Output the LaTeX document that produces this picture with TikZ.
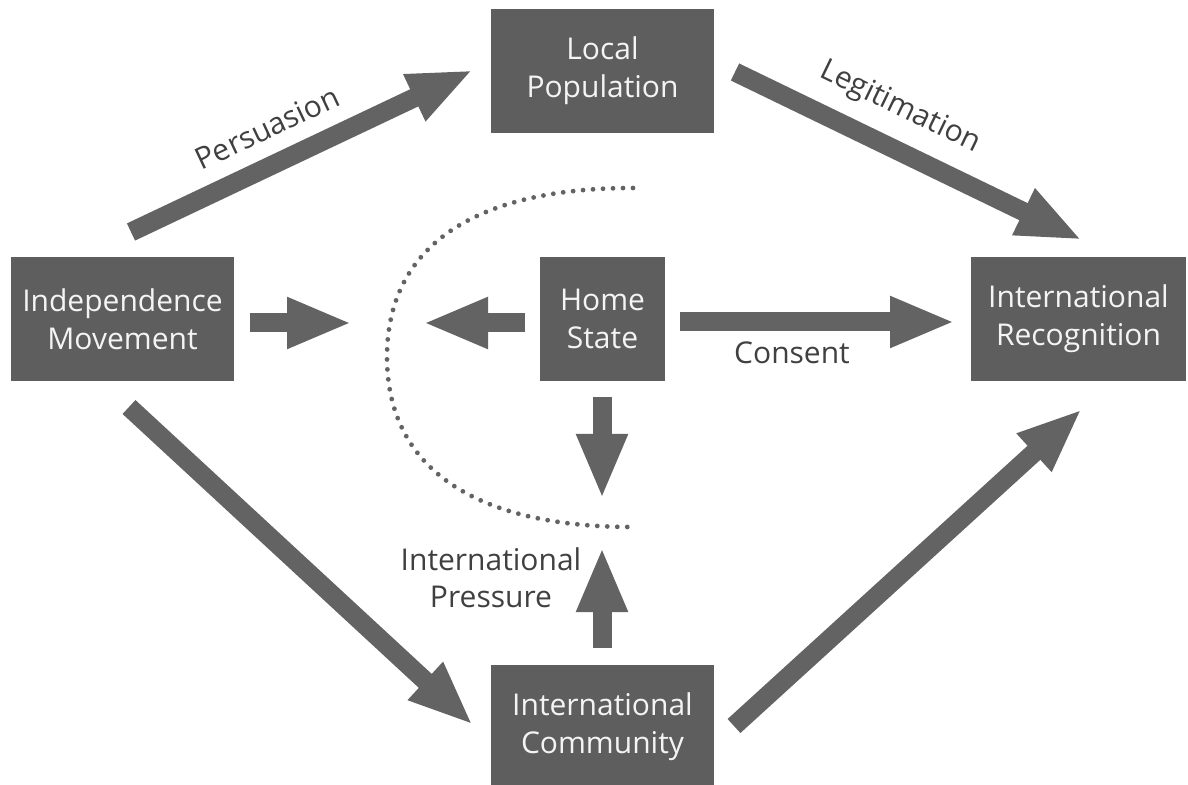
\documentclass[tikz,border=0pt]{standalone}
\usepackage{fontspec}
\setmainfont{Open Sans}
\usetikzlibrary{arrows.meta}
\definecolor{boxgray}{HTML}{5E5E5E}
\definecolor{arrgray}{HTML}{636363}
\definecolor{txtgray}{HTML}{404040}
\definecolor{boxtxt}{HTML}{F4F4F4}
\begin{document}
\begin{tikzpicture}[x=0.5pt,y=-0.5pt,
  box/.style={fill=boxgray, text=boxtxt, minimum width=111.5pt, minimum height=62pt,
    align=center, inner sep=0pt, font=\fontsize{15}{19}\selectfont},
  lbl/.style={text=txtgray, inner sep=0pt, font=\fontsize{15}{18.5}\selectfont},
  bigarrow/.style={draw=arrgray, line width=9.5pt,
    -{Triangle[width=23.5pt,length=32.5pt]}},
  dotline/.style={draw=arrgray, line width=2.4pt, line cap=round, dash pattern=on 0pt off 5pt}]
\useasboundingbox (0,0) rectangle (1188,785);
% boxes
\node[box] (lp) at (602.5,71) {Local\\Population};
\node[box] (im) at (122.5,319) {Independence\\Movement};
\node[box, minimum width=62.5pt] (hs) at (602.5,319) {Home\\State};
\node[box, minimum width=107.5pt] (ir) at (1078.5,319) {International\\Recognition};
\node[box] (ic) at (602.5,727) {International\\Community};
% arrow end points
\coordinate (p1) at (131,232);  \coordinate (p2) at (473,70);
\coordinate (l1) at (735,72);   \coordinate (l2) at (1082,240);
\coordinate (m1) at (250,323);  \coordinate (m2) at (352,323);
\coordinate (h1) at (525,323);  \coordinate (h2) at (423,323);
\coordinate (c1) at (680,322);  \coordinate (c2) at (955,322);
\coordinate (d1) at (602,397);  \coordinate (d2) at (602,499);
\coordinate (u1) at (602,648);  \coordinate (u2) at (602,547);
\coordinate (s1) at (129,407);  \coordinate (s2) at (473,725);
\coordinate (r1) at (734,726);  \coordinate (r2) at (1082,409);
% arrows
\draw[bigarrow] (p1) -- (p2);
\draw[bigarrow] (l1) -- (l2);
\draw[bigarrow] (m1) -- (m2);
\draw[bigarrow] (h1) -- (h2);
\draw[bigarrow] (c1) -- (c2);
\draw[bigarrow] (d1) -- (d2);
\draw[bigarrow] (u1) -- (u2);
\draw[bigarrow] (s1) -- (s2);
\draw[bigarrow] (r1) -- (r2);
% dotted arc
\coordinate (a1) at (633,188);
\coordinate (a2) at (387,357);
\coordinate (a3) at (633,527);
\draw[dotline] (a1) .. controls (473,188) and (387,247) .. (a2)
  .. controls (387,467) and (473,527) .. (a3);
% labels
\node[lbl, rotate=25.2] (tp) at (267,128) {Persuasion};
\node[lbl, rotate=-25.8] (tl) at (900,108) {Legitimation};
\node[lbl] (tc) at (792,353) {Consent};
\node[lbl, align=center] (tpr) at (491,578) {International\\Pressure};
\end{tikzpicture}
\end{document}
